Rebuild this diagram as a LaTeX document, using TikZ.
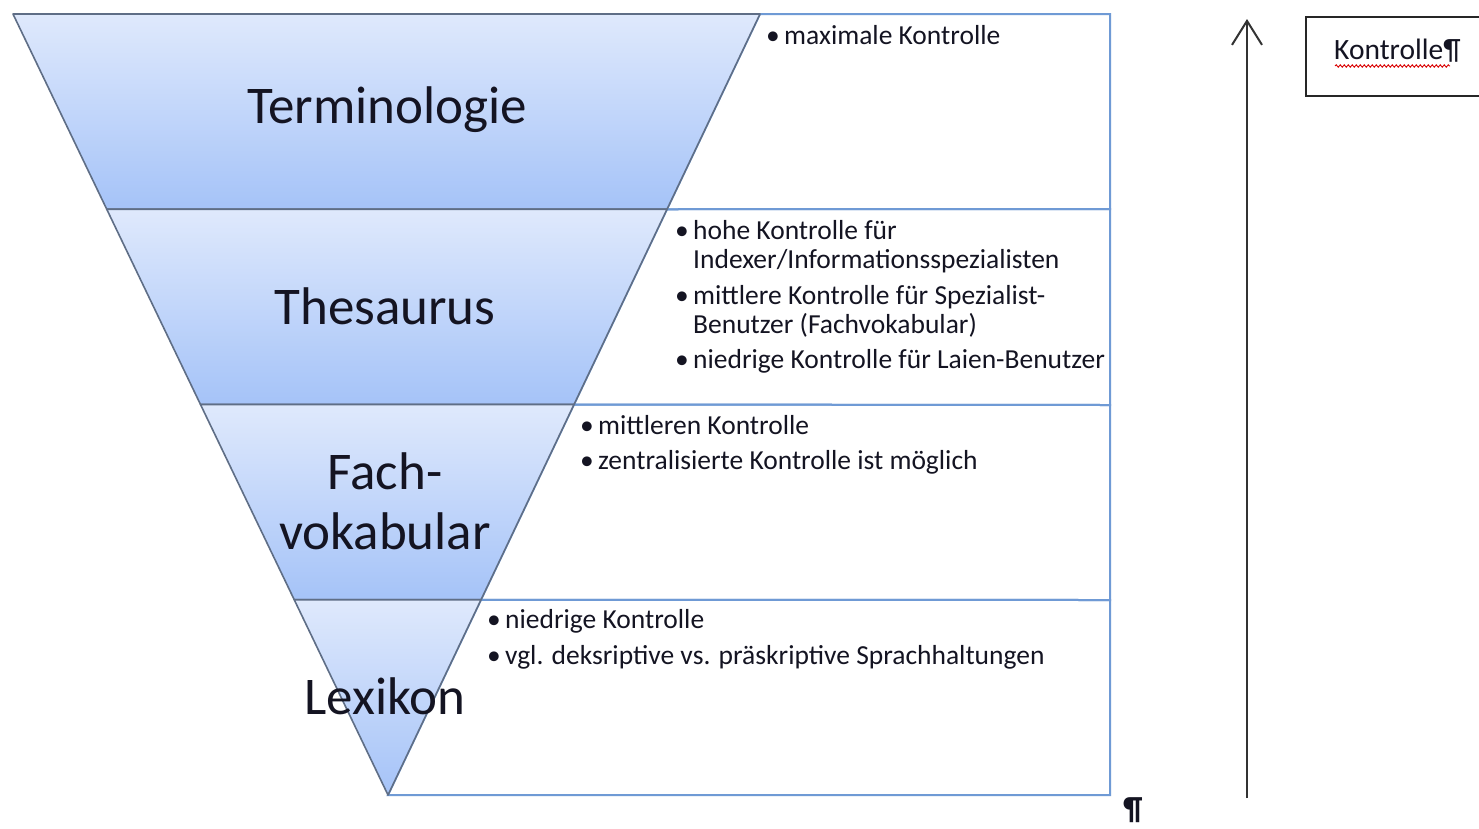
\documentclass[tikz,border=0pt]{standalone}
\usepackage{fontspec}
\setmainfont{Carlito}
\usetikzlibrary{arrows.meta,calc,decorations.pathmorphing}

\definecolor{bandtop}{HTML}{DFE9FC}
\definecolor{bandbot}{HTML}{A5C3F8}
\definecolor{bandline}{HTML}{5F6E86}
\definecolor{boxline}{HTML}{6F9AD5}
\definecolor{inktext}{HTML}{141422}

\newcommand{\bul}{\makebox[18pt][l]{•}}

\tikzset{
  band/.style={top color=bandtop, bottom color=bandbot, draw=bandline,
               line width=1.6pt, line join=round},
  notebox/.style={draw=boxline, line width=2pt},
  level/.style={font=\fontsize{53}{60}\selectfont, text=inktext, align=center, inner sep=0pt},
  note/.style={font=\fontsize{27.5}{30}\selectfont, text=inktext, anchor=base west, inner sep=0pt},
  axis/.style={draw=black!80, line width=2pt,
               -{Straight Barb[length=24pt,width=30pt,line width=2pt]}},
  labelbox/.style={draw=black!85, line width=2pt, anchor=north west,
                   minimum width=190pt, minimum height=79pt, inner sep=0pt},
  spell/.style={draw=red!85!black, line width=0.9pt,
                decorate, decoration={snake, amplitude=1.2pt, segment length=4pt}},
}

\begin{document}
\begin{tikzpicture}[x=1pt,y=-1pt]
  \clip (0,0) rectangle (1479,828);
  \fill[white] (0,0) rectangle (1479,828);

  % corners of the inverted triangle and the band boundaries
  \coordinate (A) at (13,14);
  \coordinate (B) at (760,14);
  \coordinate (C) at (388,795);
  \coordinate (L1) at ($(A)!0.25!(C)$);
  \coordinate (R1) at ($(B)!0.25!(C)$);
  \coordinate (L2) at ($(A)!0.5!(C)$);
  \coordinate (R2) at ($(B)!0.5!(C)$);
  \coordinate (L3) at ($(A)!0.75!(C)$);
  \coordinate (R3) at ($(B)!0.75!(C)$);

  % note boxes to the right of each band
  \draw[notebox] (B) -- (1110,14) -- (1110,209) -- (R1) -- cycle;
  \draw[notebox] (R1) -- (1110,209) -- (1110,405) -- (R2) -- cycle;
  \draw[notebox] (R2) -- (1110,405) -- (1110,600) -- (R3) -- cycle;
  \draw[notebox] (R3) -- (1110,600) -- (1110,795) -- (C) -- cycle;

  % the four bands of the triangle
  \path[band] (A) -- (B) -- (R1) -- (L1) -- cycle;
  \path[band] (L1) -- (R1) -- (R2) -- (L2) -- cycle;
  \path[band] (L2) -- (R2) -- (R3) -- (L3) -- cycle;
  \path[band] (L3) -- (R3) -- (C) -- cycle;

  % band titles
  \node[level] (term) at (387,110) {Terminologie};
  \node[level] (thes) at (385,306) {Thesaurus};
  \node[level] (fach) at (385,501) {Fach-\\vokabular};
  \node[level] (lex)  at (385,696) {Lexikon};

  % notes
  \node[note] (n1)  at (766,44)  {\bul maximale Kontrolle};

  \node[note] (n2a) at (675,239) {\bul hohe Kontrolle für};
  \node[note] (n2b) at (693,268) {Indexer/Informationsspezialisten};
  \node[note] (n2c) at (675,304) {\bul mittlere Kontrolle für Spezialist-};
  \node[note] (n2d) at (693,333) {Benutzer (Fachvokabular)};
  \node[note] (n2e) at (675,368) {\bul niedrige Kontrolle für Laien-Benutzer};

  \node[note] (n3a) at (580,434) {\bul mittleren Kontrolle};
  \node[note] (n3b) at (580,469) {\bul zentralisierte Kontrolle ist möglich};

  \node[note] (n4a) at (487,628) {\bul niedrige Kontrolle};
  \node[note] (n4b) at (487,664) {\bul vgl. deksriptive vs. präskriptive Sprachhaltungen};

  % paragraph mark below the boxes
  \node[inner sep=0pt, text=inktext] (pil) at (1133,810) {\fontsize{32}{32}\selectfont\bfseries ¶};

  % rising control axis
  \coordinate (axisfoot) at (1247,798);
  \coordinate (axistop) at (1247,19);
  \draw[axis] (axisfoot) -- (axistop);

  % label box for the axis
  \node[labelbox] (kbox) at (1305,16) {};
  \node[note, font=\fontsize{29.5}{32}\selectfont] (ktext) at (1334,59) {Kontrolle¶};
  \coordinate (wavyA) at (1335,66);
  \coordinate (wavyB) at (1450,66);
  \draw[spell] (wavyA) -- (wavyB);
\end{tikzpicture}
\end{document}
